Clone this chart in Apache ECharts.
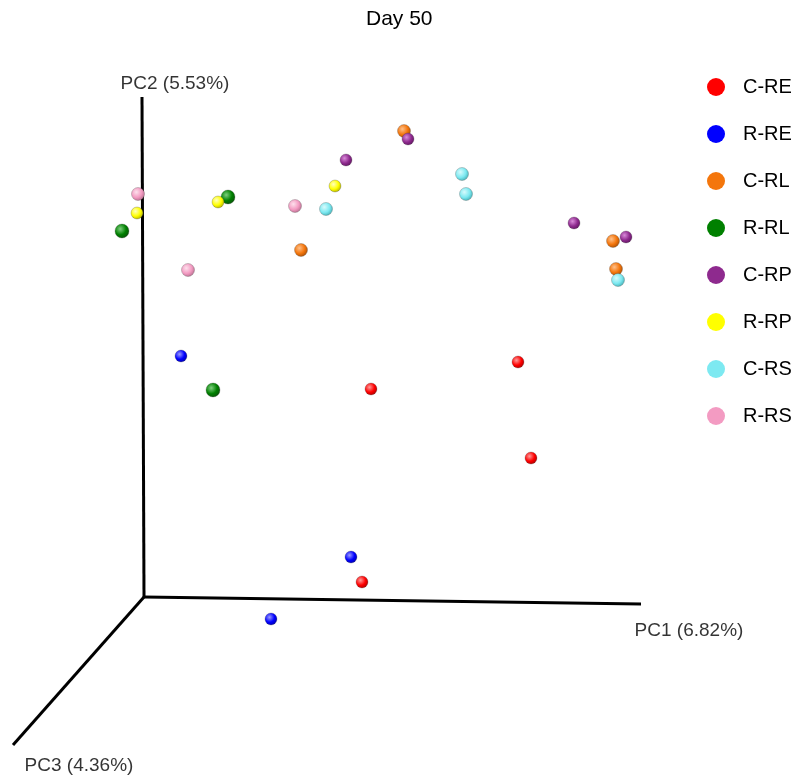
<!DOCTYPE html>
<html>
<head>
<meta charset="utf-8">
<script src="https://cdn.jsdelivr.net/npm/echarts@6/dist/echarts.min.js"></script>
<style>html,body{margin:0;padding:0;background:#fff;}#chart{width:799px;height:781px;}</style>
</head>
<body>
<div id="chart"></div>
<script>
// Projected (screen-plane) coordinates of the 3D PCoA, origin at the axes' meeting point
const groups = ['C-RE', 'R-RE', 'C-RL', 'R-RL', 'C-RP', 'R-RP', 'C-RS', 'R-RS'];
const cRE = [[227, 208], [374, 235], [387, 139], [218, 15]];
const rRE = [[37, 241], [207, 40], [127, -22]];
const cRL = [[260, 466], [157, 347], [469, 356], [472, 328]];
const rRL = [[84, 400], [-22, 366], [69, 207]];
const cRP = [[202, 437], [264, 458], [430, 374], [482, 360]];
const rRP = [[-7, 384], [74, 395], [191, 411]];
const cRS = [[318, 423], [322, 403], [182, 388], [474, 317]];
const rRS = [[-6, 403], [151, 391], [44, 327]];
const groupData = [cRE, rRE, cRL, rRL, cRP, rRP, cRS, rRS];

// projected axis directions
const axisNames = ['PC1 (6.82%)', 'PC2 (5.53%)', 'PC3 (4.36%)'];
const axisEnds = [[497, -7], [-2, 500], [-131, -148]];
const axisLabelPos = [[545, -34], [31, 513], [-65, -169]];

const flatColors = ['#ff0000', '#0000ff', '#f4760c', '#008000', '#8e2a8e', '#ffff00', '#7de9f1', '#f39bc2'];
const lightColors = ['#ff9a9a', '#9a9aff', '#ffc08a', '#7fcf7f', '#d98ad9', '#ffffc0', '#d8fbfc', '#fde0ec'];
const darkColors = ['#a00000', '#0000a0', '#a04a05', '#0a4d0a', '#5a125a', '#a8a800', '#3ea8ae', '#b06a8a'];
const sizes = [12, 12, 13, 14, 12, 12, 13, 13];
const FONT = 'Liberation Sans, Arial, sans-serif';

const chart = echarts.init(document.getElementById('chart'));
const series = [];
axisEnds.forEach((e, i) => {
  series.push({
    type: 'line', name: 'axis' + i, data: [[0, 0], e], symbol: 'none', silent: true,
    lineStyle: { color: '#000', width: 3 }, z: 1, animation: false
  });
});
series.push({
  type: 'scatter', name: 'axisLabels', symbolSize: 0, silent: true, z: 1,
  data: axisLabelPos.map((p, i) => ({ value: p, name: axisNames[i] })),
  label: { show: true, position: 'inside', formatter: '{b}', color: '#000', fontSize: 19, fontFamily: FONT }
});
groups.forEach((g, i) => {
  series.push({
    type: 'scatter', name: g, data: groupData[i], symbolSize: sizes[i], z: 3,
    itemStyle: {
      color: { type: 'radial', x: 0.38, y: 0.36, r: 0.72, colorStops: [
        { offset: 0, color: lightColors[i] },
        { offset: 0.55, color: flatColors[i] },
        { offset: 1, color: darkColors[i] }] },
      borderColor: 'rgba(60,60,60,0.45)', borderWidth: 0.6, opacity: 1
    }
  });
});

chart.setOption({
  animation: false,
  backgroundColor: '#fff',
  title: { text: 'Day 50', left: 361, top: 4,
    textStyle: { fontSize: 21, fontWeight: 'normal', color: '#000', fontFamily: FONT } },
  legend: {
    orient: 'vertical', left: 707, top: 77, padding: 0,
    itemWidth: 18, itemHeight: 18, itemGap: 27,
    icon: 'circle',
    data: groups.map((g, i) => ({ name: g, itemStyle: { color: flatColors[i], borderWidth: 0 } })),
    textStyle: { fontSize: 20, color: '#000', fontFamily: FONT, padding: [0, 0, 0, 13] }
  },
  grid: { left: 0, top: 0, width: 799, height: 781 },
  xAxis: { type: 'value', min: -144, max: 655, show: false },
  yAxis: { type: 'value', min: -184, max: 597, show: false },
  series: series
});
</script>
</body>
</html>
